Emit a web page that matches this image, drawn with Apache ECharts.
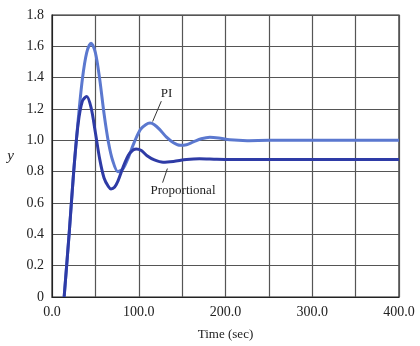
<!DOCTYPE html>
<html><head><meta charset="utf-8">
<script src="https://cdn.jsdelivr.net/npm/echarts@6/dist/echarts.min.js"></script>
<style>html,body{margin:0;padding:0;background:#fff}#c{width:420px;height:346px}</style>
</head><body><div id="c"></div>
<script>
var piTime = [14,20,25,30,35,40,45,50,55,60,65,70,76,82,88,95,102,108,113,118,124,132,140,148,155,163,172,182,192,205,225,250,300,350,400];
var piY    = [0,0.42,0.80,1.12,1.39,1.56,1.62,1.56,1.39,1.17,0.99,0.87,0.80,0.82,0.89,0.99,1.07,1.10,1.11,1.10,1.07,1.02,0.985,0.968,0.972,0.99,1.01,1.02,1.015,1.003,0.998,1.0,1.0,1.0,1.0];
var pTime  = [14,20,25,30,35,40,45,50,55,60,65,68,72,76,80,85,90,97,103,110,118,128,140,155,170,190,220,260,300,350,400];
var pY     = [0,0.42,0.80,1.10,1.25,1.28,1.21,1.05,0.88,0.76,0.705,0.69,0.70,0.74,0.80,0.87,0.92,0.945,0.935,0.90,0.875,0.86,0.865,0.877,0.882,0.879,0.877,0.877,0.877,0.877,0.877];
var piLabel = {text:'PI', at:[132,1.30], leader:[[126,1.25],[116,1.12]]};
var pLabel  = {text:'Proportional', at:[151,0.68], leader:[[127.5,0.73],[133,0.82]]};

function zip(a,b){return a.map(function(v,i){return [v,b[i]];});}
var serif = '"Liberation Serif","DejaVu Serif",serif';
var chart = echarts.init(document.getElementById('c'));
function annot(l){
  return {
    markPoint:{symbol:'circle',symbolSize:0,silent:true,data:[{coord:l.at,label:{show:true,formatter:l.text,color:'#222',fontFamily:serif,fontSize:13,position:'inside'}}]},
    markLine:{symbol:['none','none'],silent:true,label:{show:false},lineStyle:{color:'#333',width:1,type:'solid'},data:[[{coord:l.leader[0]},{coord:l.leader[1]}]]}
  };
}
var s1 = Object.assign({type:'line',name:'PI',data:zip(piTime,piY),showSymbol:false,smooth:0.3,lineStyle:{color:'#5b78cf',width:3},z:3}, annot(piLabel));
var s2 = Object.assign({type:'line',name:'Proportional',data:zip(pTime,pY),showSymbol:false,smooth:0.3,lineStyle:{color:'#2e3ba6',width:3},z:4}, annot(pLabel));
chart.setOption({
  animation:false,
  backgroundColor:'#fff',
  grid:{left:52,right:21,top:15,bottom:46,show:true,borderColor:'#222',borderWidth:1.2},
  xAxis:{type:'value',min:0,max:400,interval:50,
    name:'Time (sec)',nameLocation:'middle',nameGap:31,nameTextStyle:{fontFamily:serif,fontSize:13,color:'#222'},
    axisLine:{show:true,lineStyle:{color:'#222'}},axisTick:{show:false},
    axisLabel:{fontFamily:serif,fontSize:14,color:'#222',margin:8,formatter:function(v){return v%100===0?v.toFixed(1):'';}},
    splitLine:{show:true,lineStyle:{color:'#555',width:1.2}}},
  yAxis:{type:'value',min:0,max:1.8,interval:0.2,
    name:'y',nameLocation:'middle',nameGap:38,nameRotate:0,nameTextStyle:{fontFamily:serif,fontSize:15,fontStyle:'italic',color:'#222'},
    axisLine:{show:true,lineStyle:{color:'#222'}},axisTick:{show:false},
    axisLabel:{fontFamily:serif,fontSize:14,color:'#222',margin:8,formatter:function(v){return v===0?'0':v.toFixed(1);}},
    splitLine:{show:true,lineStyle:{color:'#555',width:1.2}}},
  series:[s1,s2]
});
</script></body></html>
